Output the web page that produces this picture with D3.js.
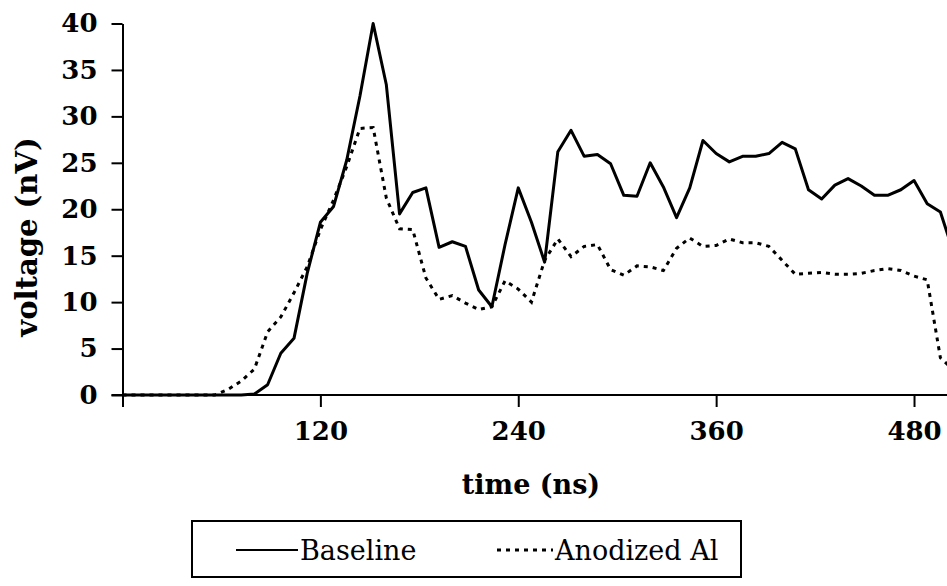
<!DOCTYPE html>
<html>
<head>
<meta charset="utf-8">
<script src="https://cdn.jsdelivr.net/npm/d3@7"></script>
<style>
  body { margin: 0; background: #fff; }
  .axis path, .axis line { stroke: #000; stroke-width: 2; }
</style>
</head>
<body>
<div class="chart"></div>
<script>
// sample times (ns)
var TIMES = [0, 8, 16, 24, 32, 40, 48, 56, 64, 72, 80, 88, 96, 104, 112, 120, 128, 136, 144, 152,
  160, 168, 176, 184, 192, 200, 208, 216, 224, 232, 240, 248, 256, 264, 272, 280, 288, 296, 304, 312,
  320, 328, 336, 344, 352, 360, 368, 376, 384, 392, 400, 408, 416, 424, 432, 440, 448, 456, 464, 472,
  480, 488, 496, 504];

// voltage (nV)
var BASELINE = [0, 0, 0, 0, 0, 0, 0, 0, 0, 0, 0.1, 1.1, 4.5, 6.1, 13.1, 18.6, 20.3, 25.3, 32.2, 40.0,
  33.4, 19.5, 21.8, 22.3, 15.9, 16.5, 16.0, 11.3, 9.5, 16.2, 22.3, 18.6, 14.3, 26.2, 28.5, 25.7, 25.9, 24.9, 21.5, 21.4,
  25.0, 22.4, 19.1, 22.3, 27.4, 26.0, 25.1, 25.7, 25.7, 26.0, 27.2, 26.5, 22.1, 21.1, 22.6, 23.3, 22.5, 21.5, 21.5, 22.1,
  23.1, 20.6, 19.7, 15.3];

var ANODIZED = [0, 0, 0, 0, 0, 0, 0, 0, 0.6, 1.5, 2.8, 6.8, 8.4, 11.0, 13.8, 17.8, 21.0, 24.6, 28.7, 28.8,
  21.2, 17.9, 17.8, 12.6, 10.3, 10.7, 9.9, 9.2, 9.5, 12.3, 11.4, 10.0, 14.5, 16.8, 14.9, 16.0, 16.2, 13.5, 12.9, 13.9,
  13.8, 13.4, 15.8, 16.9, 16.0, 16.1, 16.8, 16.4, 16.4, 16.0, 14.5, 13.0, 13.1, 13.2, 13.0, 13.0, 13.1, 13.4, 13.6, 13.4,
  12.8, 12.4, 4.0, 2.7];

var X_TICKS = [0, 120, 240, 360, 480];
var Y_TICKS = [0, 5, 10, 15, 20, 25, 30, 35, 40];
var SERIES_NAMES = ["Baseline", "Anodized Al"];

var FONT = "'DejaVu Serif', 'Liberation Serif', serif";
var W = 947, H = 586;

var svg = d3.select(".chart").append("svg")
    .attr("width", W)
    .attr("height", H)
    .attr("font-family", FONT);

var x = d3.scaleLinear().domain([0, 500]).range([122.5, 947]);
var y = d3.scaleLinear().domain([0, 40]).range([395, 23.5]);

// y axis
var yAxis = d3.axisLeft(y)
    .tickValues(Y_TICKS)
    .tickSize(11)
    .tickPadding(14)
    .tickSizeOuter(0);

var gy = svg.append("g")
    .attr("class", "axis")
    .attr("transform", "translate(" + x(0) + ",0)")
    .call(yAxis)
    .attr("font-family", FONT)
    .attr("font-size", 26)
    .attr("font-weight", "bold");

// x axis, line runs from the 0 tick of the y axis to the right edge
var xAxis = d3.axisBottom(x)
    .tickValues(X_TICKS)
    .tickSize(12)
    .tickPadding(15)
    .tickSizeOuter(0)
    .tickFormat(function (d) { return d === 0 ? "" : d; });

var gx = svg.append("g")
    .attr("class", "axis")
    .attr("transform", "translate(0," + y(0) + ")")
    .call(xAxis)
    .attr("font-family", FONT)
    .attr("font-size", 26)
    .attr("font-weight", "bold");
gx.select(".domain").attr("d", "M" + (x(0) - 11) + ",0H" + W);

// axis titles
svg.append("text")
    .attr("x", 531)
    .attr("y", 494)
    .attr("text-anchor", "middle")
    .attr("font-size", 27)
    .attr("font-weight", "bold")
    .text("time (ns)");

svg.append("text")
    .attr("transform", "translate(37,237) rotate(-90)")
    .attr("text-anchor", "middle")
    .attr("font-size", 29)
    .attr("font-weight", "bold")
    .text("voltage (nV)");

// lines
var line = d3.line()
    .x(function (d) { return x(d[0]); })
    .y(function (d) { return y(d[1]); });

svg.append("path")
    .datum(d3.zip(TIMES, ANODIZED))
    .attr("fill", "none")
    .attr("stroke", "#000")
    .attr("stroke-width", 3)
    .attr("stroke-dasharray", "4,5")
    .attr("d", line);

svg.append("path")
    .datum(d3.zip(TIMES, BASELINE))
    .attr("fill", "none")
    .attr("stroke", "#000")
    .attr("stroke-width", 3)
    .attr("stroke-linejoin", "round")
    .attr("d", line);

// legend
var legend = svg.append("g").attr("class", "legend");

legend.append("rect")
    .attr("x", 192)
    .attr("y", 521)
    .attr("width", 549)
    .attr("height", 56)
    .attr("fill", "none")
    .attr("stroke", "#000")
    .attr("stroke-width", 2);

var legendItems = [
  {name: SERIES_NAMES[0], x0: 236, x1: 298, dash: null},
  {name: SERIES_NAMES[1], x0: 497, x1: 553, dash: "4,5"}
];

legendItems.forEach(function (item) {
  legend.append("line")
      .attr("x1", item.x0)
      .attr("x2", item.x1)
      .attr("y1", 550)
      .attr("y2", 550)
      .attr("stroke", "#000")
      .attr("stroke-width", item.dash ? 3 : 2)
      .attr("stroke-dasharray", item.dash);
  legend.append("text")
      .attr("x", item.x1 + 2)
      .attr("y", 560)
      .attr("font-size", 27)
      .text(item.name);
});
</script>
</body>
</html>
